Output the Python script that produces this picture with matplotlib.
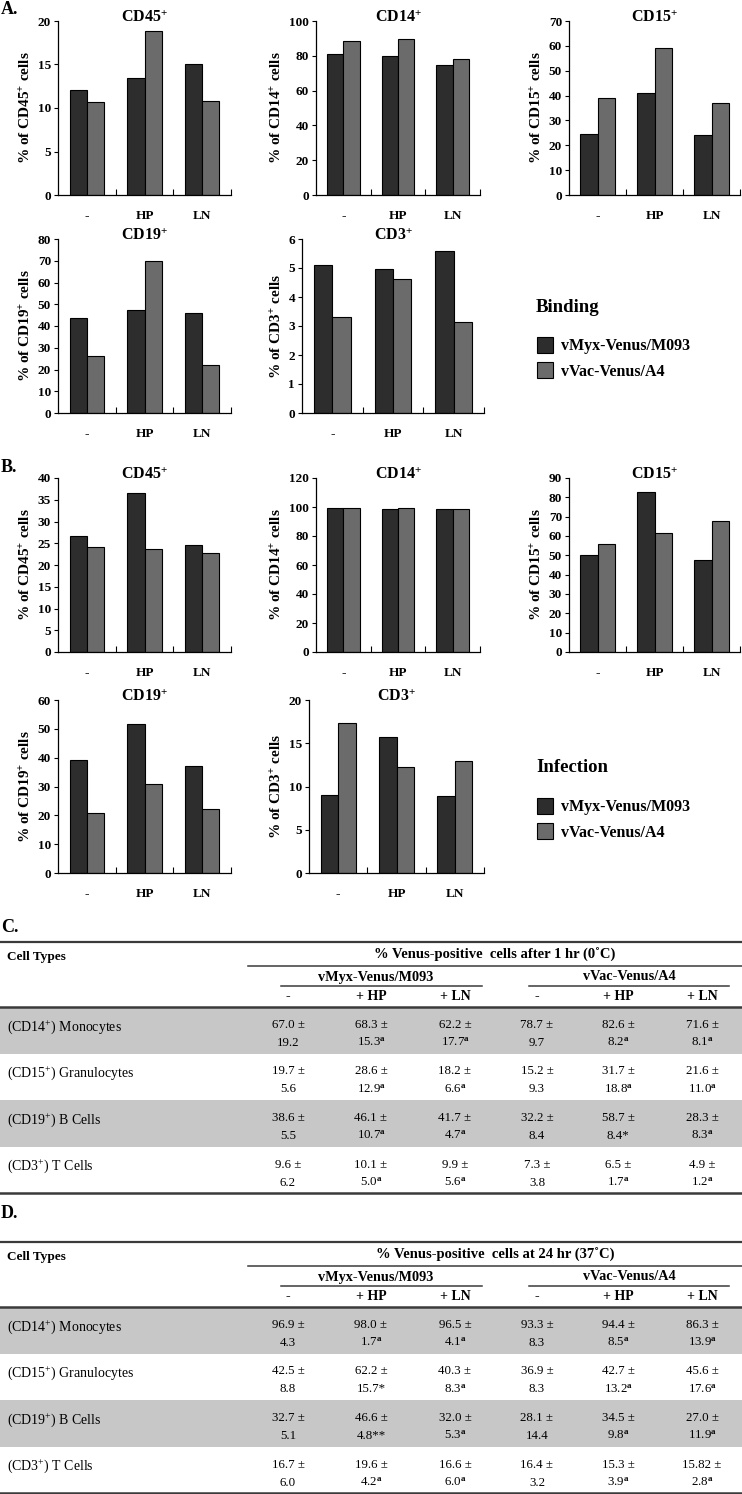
import numpy as np
import matplotlib
matplotlib.use("Agg")
import matplotlib.pyplot as plt

plt.rcParams['font.family'] = 'Liberation Serif'
plt.rcParams['mathtext.fontset'] = 'custom'
plt.rcParams['mathtext.rm'] = 'Liberation Serif'
plt.rcParams['mathtext.it'] = 'Liberation Serif:italic'
plt.rcParams['mathtext.bf'] = 'Liberation Serif:bold'

# ---- bar chart data (Binding = A, Infection = B) ----
groups = ['-', 'HP', 'LN']
series_names = ['vMyx-Venus/M093', 'vVac-Venus/A4']

A_cd45 = ([12.1, 13.5, 15.1], [10.7, 18.8, 10.8])
A_cd14 = ([81.0, 80.0, 74.5], [88.5, 89.5, 78.0])
A_cd15 = ([24.5, 41.2, 24.2], [39.0, 59.0, 37.0])
A_cd19 = ([43.5, 47.5, 45.8], [26.2, 70.0, 22.0])
A_cd3 = ([5.1, 4.95, 5.6], [3.3, 4.63, 3.15])

B_cd45 = ([26.7, 36.5, 24.7], [24.1, 23.7, 22.8])
B_cd14 = ([99.2, 98.6, 98.3], [99.6, 99.1, 98.9])
B_cd15 = ([50.0, 83.0, 47.8], [56.0, 61.5, 68.0])
B_cd19 = ([39.3, 51.7, 37.0], [20.8, 30.8, 22.2])
B_cd3 = ([9.0, 15.7, 8.9], [17.3, 12.3, 13.0])

# ---- table data ----
row_labels = ['(CD14$^{+}$) Monocytes', '(CD15$^{+}$) Granulocytes',
              '(CD19$^{+}$) B Cells', '(CD3$^{+}$) T Cells']
col_heads = ['-', '+ HP', '+ LN', '-', '+ HP', '+ LN']

C_means = [['67.0', '68.3', '62.2', '78.7', '82.6', '71.6'],
           ['19.7', '28.6', '18.2', '15.2', '31.7', '21.6'],
           ['38.6', '46.1', '41.7', '32.2', '58.7', '28.3'],
           ['9.6', '10.1', '9.9', '7.3', '6.5', '4.9']]
C_sds = [['19.2', '15.3', '17.7', '9.7', '8.2', '8.1'],
         ['5.6', '12.9', '6.6', '9.3', '18.8', '11.0'],
         ['5.5', '10.7', '4.7', '8.4', '8.4', '8.3'],
         ['6.2', '5.0', '5.6', '3.8', '1.7', '1.2']]
C_marks = [['', 'a', 'a', '', 'a', 'a'],
           ['', 'a', 'a', '', 'a', 'a'],
           ['', 'a', 'a', '', '*', 'a'],
           ['', 'a', 'a', '', 'a', 'a']]

D_means = [['96.9', '98.0', '96.5', '93.3', '94.4', '86.3'],
           ['42.5', '62.2', '40.3', '36.9', '42.7', '45.6'],
           ['32.7', '46.6', '32.0', '28.1', '34.5', '27.0'],
           ['16.7', '19.6', '16.6', '16.4', '15.3', '15.82']]
D_sds = [['4.3', '1.7', '4.1', '8.3', '8.5', '13.9'],
         ['8.8', '15.7', '8.3', '8.3', '13.2', '17.6'],
         ['5.1', '4.8', '5.3', '14.4', '9.8', '11.9'],
         ['6.0', '4.2', '6.0', '3.2', '3.9', '2.8']]
D_marks = [['', 'a', 'a', '', 'a', 'a'],
           ['', '*', 'a', '', 'a', 'a'],
           ['', '**', 'a', '', 'a', 'a'],
           ['', 'a', 'a', '', 'a', 'a']]

DARK = '#2d2d2d'
LIGHT = '#6b6b6b'
BAND = '#c7c7c7'

W, H = 742, 1494
fig = plt.figure(figsize=(W / 100, H / 100), dpi=100)

# overlay axes in pixel coordinates for tables / labels
tax = fig.add_axes([0, 0, 1, 1])
tax.set_xlim(0, W)
tax.set_ylim(H, 0)
tax.axis('off')
tax.patch.set_alpha(0)


def px_axes(l, t, r, b):
    return fig.add_axes([l / W, 1 - b / H, (r - l) / W, (b - t) / H])


def bar_panel(box, data, marker, top, step):
    ax = px_axes(*box)
    x = np.arange(len(groups)) + 0.5
    b1 = ax.bar(x - 0.15, data[0], 0.3, color=DARK, edgecolor='black',
                linewidth=0.8, label=series_names[0])
    b2 = ax.bar(x + 0.15, data[1], 0.3, color=LIGHT, edgecolor='black',
                linewidth=0.8, label=series_names[1])
    ax.set_xlim(0, 3)
    ax.set_ylim(0, top)
    ax.set_yticks(np.arange(0, top + step / 2, step))
    ax.set_xticks(x)
    ax.set_xticklabels(groups)
    ax.set_xticks([1, 2, 3], minor=True)
    ax.tick_params(axis='x', which='major', length=0, pad=11)
    ax.tick_params(axis='x', which='minor', direction='in', length=4, width=0.8)
    ax.tick_params(axis='y', direction='out', length=3, width=0.8, pad=2)
    for lab in ax.get_xticklabels() + ax.get_yticklabels():
        lab.set_fontweight('bold')
        lab.set_fontsize(9.5)
    for s in ['top', 'right']:
        ax.spines[s].set_visible(False)
    for s in ['left', 'bottom']:
        ax.spines[s].set_linewidth(0.9)
    ax.set_ylabel('% of ' + marker + r'$^{\mathbf{+}}$ cells',
                  fontweight='bold', fontsize=11, labelpad=3)
    ax.text(0.5, 1.0 + 3 / (box[3] - box[1]), marker + r'$^{\mathbf{+}}$',
            transform=ax.transAxes, ha='center', va='center',
            fontweight='bold', fontsize=11.5)
    return b1, b2


# Panel A (binding)
bar_panel((58, 21, 231, 195), A_cd45, 'CD45', 20, 5)
bar_panel((316, 21, 480, 195), A_cd14, 'CD14', 100, 20)
bar_panel((569, 21, 740, 195), A_cd15, 'CD15', 70, 10)
h1, h2 = bar_panel((58, 239, 231, 413), A_cd19, 'CD19', 80, 10)
bar_panel((302, 239, 484, 413), A_cd3, 'CD3', 6, 1)

# Panel B (infection)
bar_panel((58, 478, 231, 652), B_cd45, 'CD45', 40, 5)
bar_panel((316, 478, 480, 652), B_cd14, 'CD14', 120, 20)
bar_panel((569, 478, 740, 652), B_cd15, 'CD15', 90, 10)
bar_panel((58, 700, 231, 873), B_cd19, 'CD19', 60, 10)
bar_panel((309, 700, 484, 873), B_cd3, 'CD3', 20, 5)

# legends
for title, ty in [('Binding', 307), ('Infection', 768)]:
    tax.text(536, ty, title, ha='left', va='center', fontweight='bold',
             fontsize=13.5)
    fig.legend([h1, h2], series_names, loc='upper left',
               bbox_to_anchor=(523 / W, 1 - (ty + 16) / H), frameon=False,
               prop={'weight': 'bold', 'size': 11.5}, handlelength=1.0,
               handleheight=1.1, handletextpad=0.5, labelspacing=0.5)

# panel letters
for letter, ly in [('A.', 10), ('B.', 468), ('C.', 928), ('D.', 1213)]:
    tax.text(1, ly, letter, ha='left', va='center', fontweight='bold',
             fontsize=13)

col_x = [288, 371, 455, 537, 618, 702]


def draw_table(top, header, means, sds, marks):
    tax.plot([0, W], [top, top], color='#3a3a3a', lw=1.6)
    tax.text(7, top + 15, 'Cell Types', ha='left', va='center',
             fontweight='bold', fontsize=9.5)
    tax.text(495, top + 13, header, ha='center', va='center',
             fontweight='bold', fontsize=10.5)
    tax.plot([248, W], [top + 24, top + 24], color='#3a3a3a', lw=1.1)
    tax.text(376, top + 35, 'vMyx-Venus/M093', ha='center', va='center',
             fontweight='bold', fontsize=10.3)
    tax.text(629, top + 35, 'vVac-Venus/A4', ha='center', va='center',
             fontweight='bold', fontsize=10.3)
    tax.plot([281, 482], [top + 44, top + 44], color='#3a3a3a', lw=1.1)
    tax.plot([529, 729], [top + 44, top + 44], color='#3a3a3a', lw=1.1)
    for cx, ch in zip(col_x, col_heads):
        tax.text(cx, top + 55, ch, ha='center', va='center',
                 fontweight='bold', fontsize=10)
    y0 = top + 65
    rh = 46.5
    for i, lab in enumerate(row_labels):
        ry = y0 + i * rh
        if i % 2 == 0:
            tax.add_patch(plt.Rectangle((0, ry), W, rh, color=BAND, lw=0))
        tax.text(7, ry + 20, lab, ha='left', va='center', fontsize=10)
        for j, cx in enumerate(col_x):
            tax.text(cx, ry + 18, means[i][j] + ' \u00b1', ha='center',
                     va='center', fontsize=9.3)
            m = marks[i][j]
            if m == 'a':
                s = sds[i][j] + r'$^{\mathbf{a}}$'
            else:
                s = sds[i][j] + m
            tax.text(cx, ry + 36, s, ha='center', va='center', fontsize=9.3)
    yb = y0 + 4 * rh
    tax.plot([0, W], [y0, y0], color='#3a3a3a', lw=1.8)
    tax.plot([0, W], [yb, yb], color='#3a3a3a', lw=1.8)


draw_table(942, '% Venus-positive  cells after 1 hr (0\u02daC)',
           C_means, C_sds, C_marks)
draw_table(1242, '% Venus-positive  cells at 24 hr (37\u02daC)',
           D_means, D_sds, D_marks)

fig.savefig('out.png', dpi=100)
